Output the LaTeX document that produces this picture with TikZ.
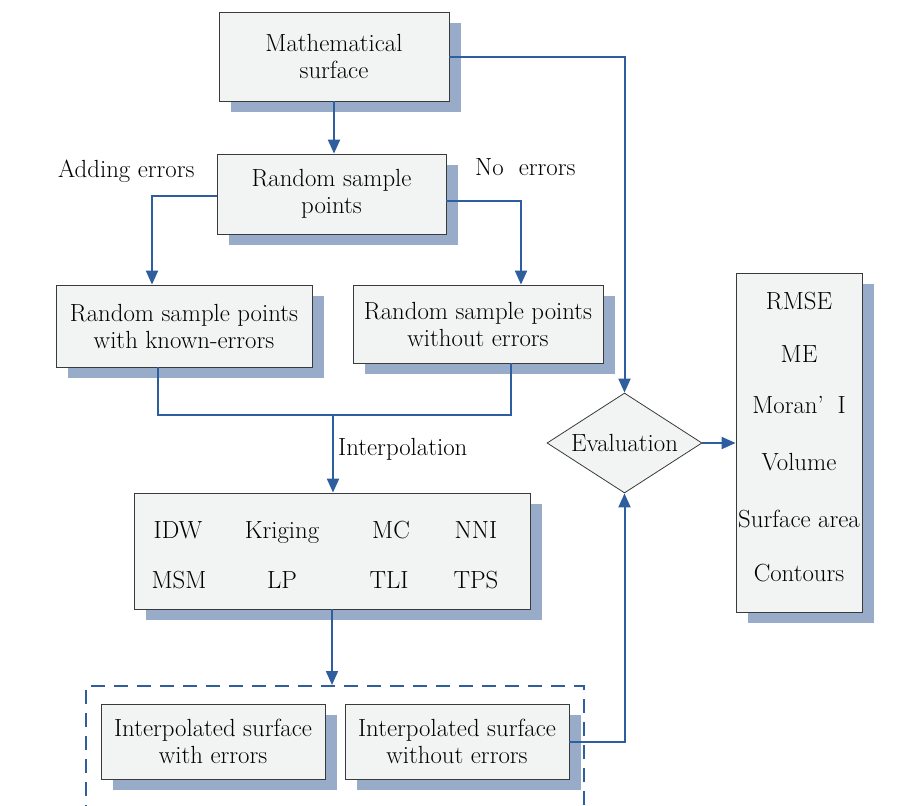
\documentclass[tikz,border=0pt]{standalone}
\usepackage{tikz}
\usetikzlibrary{arrows.meta, shapes.geometric, shadows}

\definecolor{flowblue}{HTML}{2F5E9E}
\definecolor{shadowblue}{HTML}{98ACCA}
\definecolor{boxfill}{HTML}{F2F3F3}
\definecolor{boxline}{HTML}{3A3A3A}

\tikzset{
  every node/.style={font=\fontsize{24.8}{27}\selectfont},
  box/.style={draw=boxline, fill=boxfill, line width=0.8pt, align=center, inner sep=0pt,
    drop shadow={fill=shadowblue, opacity=1, shadow xshift=12pt, shadow yshift=-11pt}},
  word/.style={inner sep=0pt, text height=17pt, text depth=5pt},
  line/.style={draw=flowblue, line width=2pt},
  arr/.style={line, -{Triangle[length=14pt, width=12pt]}},
}

\begin{document}
\begin{tikzpicture}[x=1pt, y=-1pt]
            \useasboundingbox (0,0) rectangle (906,806);
            \clip (0,0) rectangle (906,806);

            % boxes
            \node[box, minimum width=230pt, minimum height=89pt] (surf) at (334,56.5) {Mathematical\\surface};
            \node[box, minimum width=229pt, minimum height=80pt] (rsp) at (331.5,194) {Random sample\\points};
            \node[box, minimum width=256pt, minimum height=82pt] (rspe) at (184,326) {Random sample points\\with known-errors};
            \node[box, minimum width=250pt, minimum height=78pt] (rspn) at (478,324) {Random sample points\\without errors};
            \node[box, minimum width=396pt, minimum height=116pt] (interp) at (332,551) {};
            \node[box, minimum width=126pt, minimum height=339pt] (metric) at (799,442.5) {};
            \node[draw=boxline, fill=boxfill, line width=0.8pt, diamond, aspect=1.55, inner sep=0pt,
                  minimum width=155pt, minimum height=100pt] (eval) at (624.5,443) {Evaluation};

            \foreach \name/\x/\y in {IDW/178/532, Kriging/282/532, MC/391/532, NNI/476/532,
                                     MSM/179/582, LP/282/582, TLI/389/582, TPS/476/582} {
                \node[word] (\name) at (\x,\y) {\name};
            }
            \foreach \val/\y in {RMSE/303, ME/356, {Moran’\hspace{0.55em}I}/407, Volume/464,
                                 Surface area/521, Contours/575} {
                \node[word] (m\y) at (799,\y) {\val};
            }

            % output surfaces
            \node[draw=flowblue, line width=2pt, dash pattern=on 14pt off 9pt,
                  minimum width=498pt, minimum height=150pt, inner sep=0pt] (outbox) at (334.5,761) {};
            \node[box, minimum width=224pt, minimum height=75pt] (ise) at (213,741.5) {Interpolated surface\\with errors};
            \node[box, minimum width=224pt, minimum height=75pt] (isn) at (457,741.5) {Interpolated surface\\without errors};

            % labels
            \node[word, anchor=west] (lbladd) at (58,171) {Adding errors};
            \node[word, anchor=west] (lblno) at (475,169) {No\ \ errors};
            \node[word, anchor=west] (lblint) at (338,449) {Interpolation};

            % connectors
            \draw[arr] (surf.south) -- (surf.south |- rsp.north);
            \draw[arr] (surf.east) -| (eval.north);
            \draw[arr] ([yshift=-2pt]rsp.west) -| ([xshift=-32pt]rspe.north);
            \draw[arr] ([yshift=-7pt]rsp.east) -| ([xshift=43pt]rspn.north);

            \coordinate (join) at (333,415);
            \draw[line] ([xshift=-26pt]rspe.south) |- (join) -| ([xshift=33pt]rspn.south);
            \draw[arr] (join) -- (join |- interp.north);
            \draw[arr] (interp.south) -- (interp.south |- outbox.north);

            \draw[arr] (isn.east) -| (eval.south);
            \draw[arr] (eval.east) -- (metric.west |- eval.east);

        \end{tikzpicture}
\end{document}
